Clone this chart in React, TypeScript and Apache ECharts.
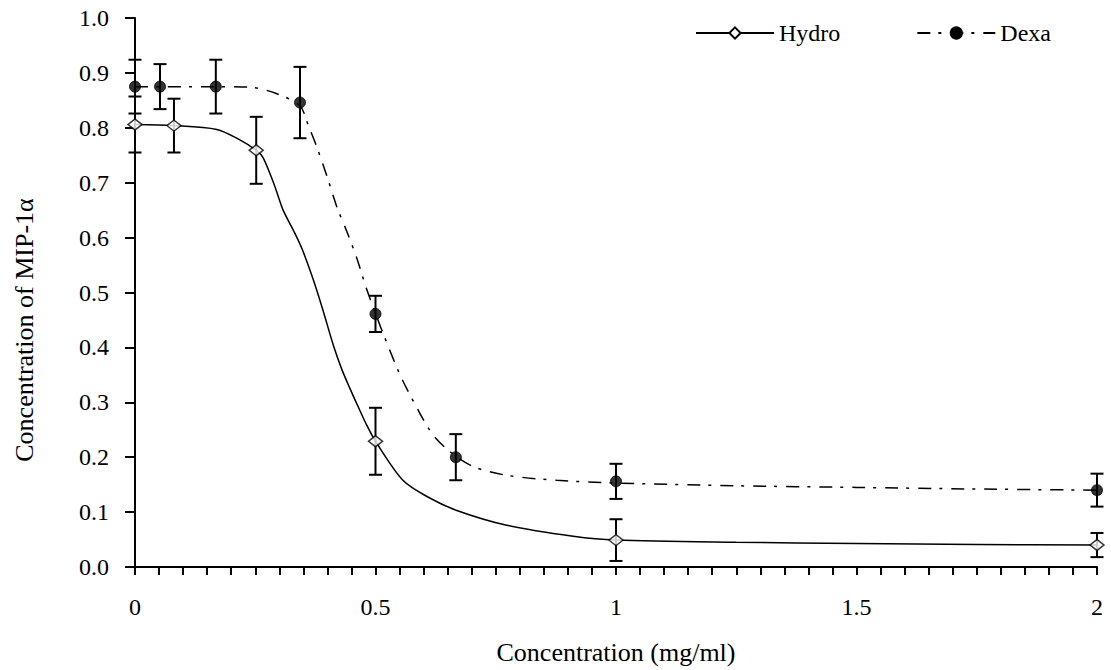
import React, { useEffect, useRef } from "react";
import * as echarts from "echarts";

// Measured points (mean) and error (± SD)
const hydroX = [0, 0.081, 0.252, 0.5, 1, 2];
const hydroY = [0.806, 0.804, 0.759, 0.229, 0.049, 0.04];
const hydroErr = [0.051, 0.049, 0.061, 0.061, 0.038, 0.022];

const dexaX = [0, 0.052, 0.168, 0.343, 0.5, 0.667, 1, 2];
const dexaY = [0.875, 0.875, 0.875, 0.846, 0.461, 0.2, 0.156, 0.14];
const dexaErr = [0.049, 0.041, 0.049, 0.065, 0.033, 0.042, 0.032, 0.03];

// Fitted curves
const hydroCurveX = [0, 0.08, 0.17, 0.218, 0.252, 0.266, 0.29, 0.308, 0.33, 0.347, 0.37, 0.39, 0.412, 0.43, 0.447, 0.465, 0.482, 0.5, 0.557, 0.61, 0.669, 0.773, 0.911, 1, 1.25, 1.5, 1.75, 2];
const hydroCurveY = [0.806, 0.804, 0.797, 0.778, 0.759, 0.746, 0.695, 0.65, 0.612, 0.58, 0.525, 0.47, 0.405, 0.36, 0.325, 0.29, 0.258, 0.229, 0.158, 0.127, 0.103, 0.076, 0.056, 0.049, 0.045, 0.043, 0.041, 0.04];

const dexaCurveX = [0, 0.052, 0.168, 0.239, 0.295, 0.343, 0.36, 0.378, 0.399, 0.42, 0.44, 0.461, 0.48, 0.5, 0.516, 0.551, 0.586, 0.62, 0.655, 0.703, 0.773, 0.877, 1, 1.25, 1.5, 1.75, 2];
const dexaCurveY = [0.875, 0.875, 0.875, 0.874, 0.862, 0.84, 0.805, 0.765, 0.712, 0.655, 0.612, 0.563, 0.51, 0.462, 0.425, 0.35, 0.29, 0.24, 0.21, 0.183, 0.167, 0.158, 0.153, 0.148, 0.145, 0.142, 0.14];

const seriesNames = ["Hydro", "Dexa"];
const xAxisTitle = "Concentration (mg/ml)";
const yAxisTitle = "Concentration of MIP-1α";

const FONT = "'Liberation Serif', 'Times New Roman', serif";
const TICK_SIZE = 24;
const TITLE_SIZE = 26;

function errorBarSeries(name: string, xs: number[], ys: number[], errs: number[]) {
  return {
    type: "custom",
    name,
    z: 3,
    encode: { x: 0, y: [1, 2] },
    data: xs.map((x, i) => [x, ys[i] - errs[i], ys[i] + errs[i]]),
    renderItem: (params: any, api: any) => {
      const x = api.value(0);
      const lo = api.coord([x, api.value(1)]);
      const hi = api.coord([x, api.value(2)]);
      const hw = 6.5;
      const st = { stroke: "#000", lineWidth: 2 };
      return {
        type: "group",
        children: [
          { type: "line", shape: { x1: hi[0], y1: hi[1], x2: lo[0], y2: lo[1] }, style: st },
          { type: "line", shape: { x1: hi[0] - hw, y1: hi[1], x2: hi[0] + hw, y2: hi[1] }, style: st },
          { type: "line", shape: { x1: lo[0] - hw, y1: lo[1], x2: lo[0] + hw, y2: lo[1] }, style: st },
        ],
      };
    },
  };
}

export default function App() {
  const ref = useRef<HTMLDivElement>(null);
  useEffect(() => {
    if (!ref.current) return;
    const chart = echarts.init(ref.current, null, { renderer: "svg" });
    const hydroMarker = { color: "#fff", borderColor: "#000", borderWidth: 1.5 };
    const dexaMarker = { color: "#000", borderColor: "#000", borderWidth: 1 };
    const dexaDash = [13, 8, 3, 9];
    chart.setOption({
      animation: false,
      backgroundColor: "#fff",
      textStyle: { fontFamily: FONT, color: "#000" },
      grid: { left: 135, right: 14, top: 18, bottom: 101, containLabel: false },
      legend: {
        data: seriesNames,
        left: 690,
        top: 16,
        itemWidth: 78,
        itemHeight: 14,
        itemGap: 76,
        selectedMode: false,
        textStyle: { fontFamily: FONT, fontSize: TICK_SIZE, color: "#000" },
      },
      xAxis: {
        type: "value",
        min: 0,
        max: 2,
        interval: 0.5,
        name: xAxisTitle,
        nameLocation: "middle",
        nameGap: 72,
        nameTextStyle: { fontFamily: FONT, fontSize: TITLE_SIZE, color: "#000" },
        axisLine: { lineStyle: { color: "#000", width: 2 } },
        axisTick: { show: true, inside: false, length: 8, lineStyle: { color: "#000", width: 2 } },
        minorTick: { show: true, splitNumber: 10, length: 8, lineStyle: { color: "#000", width: 2 } },
        splitLine: { show: false },
        axisLabel: { fontFamily: FONT, fontSize: TICK_SIZE, color: "#000", margin: 28 },
      },
      yAxis: {
        type: "value",
        min: 0,
        max: 1,
        interval: 0.1,
        axisLine: { show: true, lineStyle: { color: "#000", width: 2 } },
        axisTick: { show: true, inside: false, length: 10, lineStyle: { color: "#000", width: 2 } },
        splitLine: { show: false },
        axisLabel: {
          fontFamily: FONT,
          fontSize: TICK_SIZE,
          color: "#000",
          margin: 26,
          formatter: (v: number) => v.toFixed(1),
        },
      },
      graphic: [
        {
          type: "text",
          x: 24,
          y: 330,
          rotation: Math.PI / 2,
          style: {
            text: yAxisTitle,
            fontFamily: FONT,
            fontSize: TITLE_SIZE,
            fill: "#000",
            textAlign: "center",
            textVerticalAlign: "middle",
          },
        },
      ],
      series: [
        {
          type: "line",
          name: "Hydro",
          data: hydroCurveX.map((x, i) => [x, hydroCurveY[i]]),
          smooth: 0.3,
          showSymbol: false,
          symbol: "diamond",
          symbolSize: [14, 11],
          itemStyle: hydroMarker,
          lineStyle: { color: "#000", width: 1.5, type: "solid" },
          z: 2,
        },
        {
          type: "line",
          name: "Dexa",
          data: dexaCurveX.map((x, i) => [x, dexaCurveY[i]]),
          smooth: 0.3,
          showSymbol: false,
          symbol: "circle",
          symbolSize: 11,
          itemStyle: dexaMarker,
          lineStyle: { color: "#000", width: 1.5, type: dexaDash },
          z: 2,
        },
        errorBarSeries("Hydro", hydroX, hydroY, hydroErr),
        errorBarSeries("Dexa", dexaX, dexaY, dexaErr),
        {
          type: "scatter",
          name: "Hydro",
          data: hydroX.map((x, i) => [x, hydroY[i]]),
          symbol: "diamond",
          symbolSize: [14, 11],
          itemStyle: hydroMarker,
          z: 5,
        },
        {
          type: "scatter",
          name: "Dexa",
          data: dexaX.map((x, i) => [x, dexaY[i]]),
          symbol: "circle",
          symbolSize: 11,
          itemStyle: dexaMarker,
          z: 5,
        },
      ],
    });
    return () => chart.dispose();
  }, []);
  return (
    <div
      ref={ref}
      style={{ position: "fixed", left: 0, top: 0, width: 1111, height: 670, background: "#fff" }}
    />
  );
}
